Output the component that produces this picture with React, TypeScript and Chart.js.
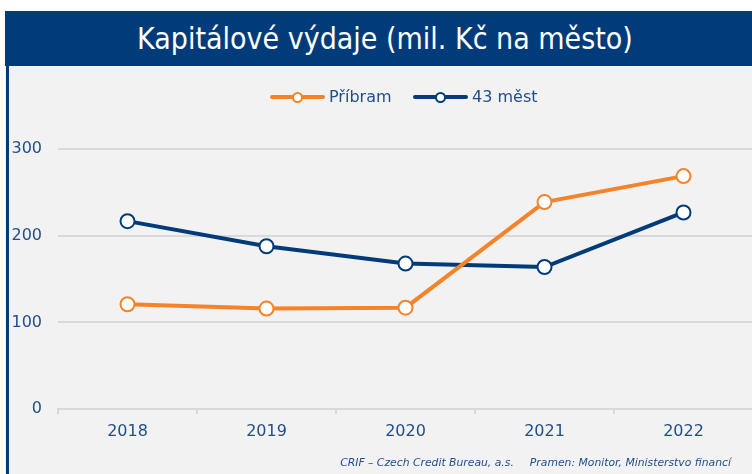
import React, { useEffect, useRef } from "react";
import { Chart, registerables } from "chart.js";

Chart.register(...registerables);

const TITLE = "Kapitálové výdaje (mil. Kč na město)";
const FOOTER_LEFT = "CRIF – Czech Credit Bureau, a.s.";
const FOOTER_RIGHT = "Pramen: Monitor, Ministerstvo financí";
const years = ["2018", "2019", "2020", "2021", "2022"];
const seriesNames = ["Příbram", "43 měst"];
const pribram = [121, 116, 117, 239, 269];
const mest43 = [217, 188, 168, 164, 227];
const yTicks = [0, 100, 200, 300];

const NAVY = "#023b79";
const ORANGE = "#f5832a";
const TEXT = "#1f4e88";
const GRID = "#d9d9d9";
const BG = "#f2f2f2";

export default function App() {
  const ref = useRef<HTMLCanvasElement>(null);
  useEffect(() => {
    document.body.style.margin = "0";
    document.body.style.overflow = "hidden";
    const chart = new Chart(ref.current!, {
      type: "line",
      data: {
        labels: years,
        datasets: [
          {
            label: seriesNames[0],
            data: pribram,
            borderColor: ORANGE,
            backgroundColor: "#ffffff",
            pointBackgroundColor: "#ffffff",
            pointBorderColor: ORANGE,
            borderWidth: 4,
            pointRadius: 7,
            pointBorderWidth: 2,
          },
          {
            label: seriesNames[1],
            data: mest43,
            borderColor: NAVY,
            backgroundColor: "#ffffff",
            pointBackgroundColor: "#ffffff",
            pointBorderColor: NAVY,
            borderWidth: 4,
            pointRadius: 7,
            pointBorderWidth: 2,
          },
        ],
      },
      options: {
        animation: false,
        responsive: false,
        layout: { padding: { top: 40, right: 12, bottom: 0, left: 0 } },
        plugins: { legend: { display: false }, tooltip: { enabled: false }, title: { display: false } },
        scales: {
          x: {
            offset: true,
            grid: { offset: true, drawOnChartArea: false, drawTicks: true, tickLength: 5, color: GRID, lineWidth: 2 },
            border: { display: true, color: GRID, width: 2 },
            ticks: { color: TEXT, font: { family: "DejaVu Sans", size: 16 }, padding: 8 },
            afterFit: (s: any) => { s.height = 65; },
          },
          y: {
            min: 0,
            max: 350,
            afterBuildTicks: (s: any) => { s.ticks = yTicks.map((v) => ({ value: v })); },
            grid: { drawTicks: false, color: GRID, lineWidth: 2 },
            border: { display: false },
            ticks: { color: TEXT, font: { family: "DejaVu Sans", size: 16 }, padding: 16 },
            afterFit: (s: any) => { s.width = 49; },
          },
        },
      },
    });
    return () => chart.destroy();
  }, []);

  const legendItem = (color: string, name: string, left: number) => (
    <div style={{ position: "absolute", left, top: 22, height: 18, display: "flex", alignItems: "center" }}>
      <div style={{ position: "relative", width: 55, height: 18 }}>
        <div style={{ position: "absolute", left: 0, top: 7, width: 55, height: 4, background: color, borderRadius: 2 }} />
        <div style={{ position: "absolute", left: 22, top: 4, width: 7, height: 7, borderRadius: "50%", background: "#fff", border: `2px solid ${color}` }} />
      </div>
      <span style={{ marginLeft: 4, color: TEXT, fontFamily: "DejaVu Sans", fontSize: 16, lineHeight: "18px" }}>{name}</span>
    </div>
  );

  return (
    <div style={{ position: "fixed", left: 0, top: 0, width: 752, height: 474, overflow: "hidden", background: "#fff" }}>
      <div style={{ position: "absolute", left: 5, top: 11, width: 760, height: 520, background: BG }}>
        <div style={{ height: 55, background: NAVY, color: "#fff", fontFamily: "DejaVu Sans Condensed", fontSize: 30, display: "flex", alignItems: "center", justifyContent: "center" }}>
          {TITLE}
        </div>
        <div style={{ position: "absolute", left: 1, top: 55, width: 3, height: 470, background: NAVY }} />
        <div style={{ position: "absolute", left: 4, top: 55, width: 756, height: 408 }}>
          <canvas ref={ref} width={756} height={408} style={{ display: "block" }} />
          {legendItem(ORANGE, seriesNames[0], 261)}
          {legendItem(NAVY, seriesNames[1], 404)}
          <div style={{ position: "absolute", left: 0, top: 390, width: 722, textAlign: "right", color: TEXT, fontFamily: "DejaVu Sans", fontStyle: "italic", fontSize: 10.8 }}>
            {FOOTER_LEFT}
            <span style={{ marginLeft: 16 }}>{FOOTER_RIGHT}</span>
          </div>
        </div>
      </div>
    </div>
  );
}
